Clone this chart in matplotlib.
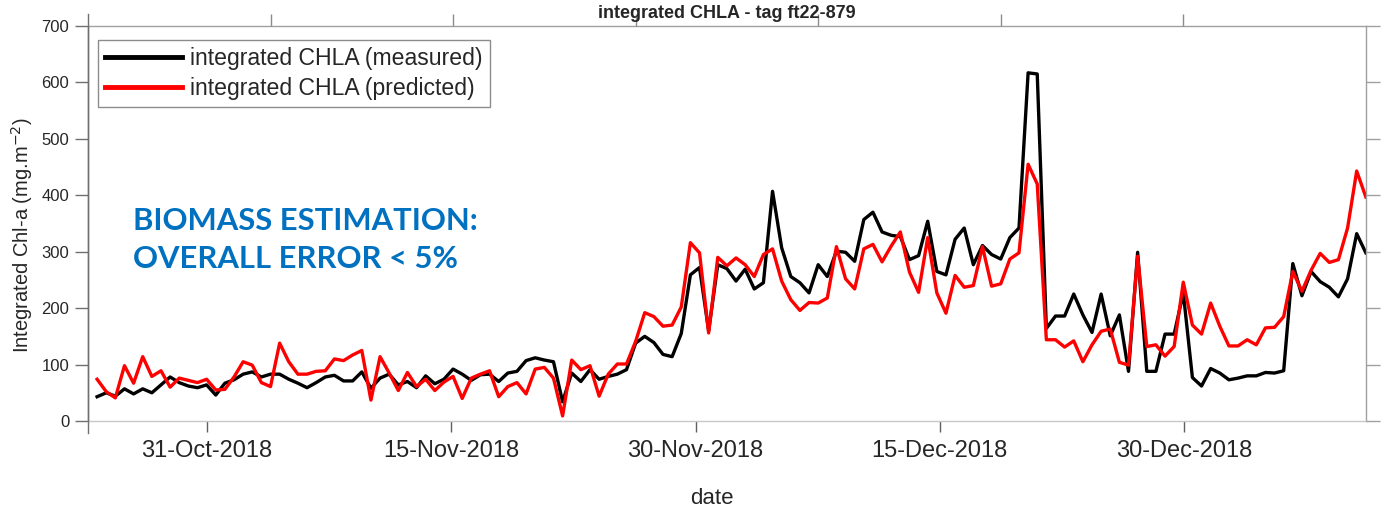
import matplotlib
matplotlib.use("Agg")
import matplotlib.pyplot as plt
import matplotlib.dates as mdates
from matplotlib.lines import Line2D
import pandas as pd

# ---------------- data ----------------
dates = pd.date_range("2018-10-24 06:00", "2019-01-10 04:00", periods=140)

measured = [43, 50, 44, 57, 48, 57, 50, 64, 78, 68, 62, 59, 64, 46, 67, 73, 83, 87, 78, 83,
            83, 74, 67, 59, 68, 78, 81, 71, 71, 87, 58, 76, 83, 64, 70,
            59, 80, 66, 74, 92, 83, 72, 82, 83, 70, 85, 88, 107, 112, 108, 105, 34, 85, 70, 91,
            74, 79, 83, 91, 138, 150, 139, 118, 114, 155, 259, 272, 160, 277, 270,
            248, 269, 234, 245, 407, 307, 256, 245, 227, 277, 256, 301, 299, 283, 357, 370, 335,
            329, 327, 286, 293, 354, 265, 259, 322, 342, 277, 311, 295, 287, 325, 342, 617, 615,
            164, 186,
            186, 225, 188, 157, 225, 151, 188, 88, 299, 88, 88, 154, 154, 227, 77, 62, 93, 85,
            73, 76, 80, 80, 86, 85, 89, 279, 222, 265, 247, 237, 220, 252, 332, 298]

predicted = [74, 52, 41, 98, 67, 114, 79, 89, 60, 76, 72, 68, 74, 55, 56, 78, 105, 99, 68, 61,
             138, 105, 83, 83, 88, 89, 110, 107, 117, 125, 37, 114, 85, 54, 86,
             61, 74, 54, 69, 79, 40, 76, 83, 89, 43, 61, 68, 48, 92, 95, 76, 9, 108, 91, 98,
             44, 83, 101, 101, 141, 192, 185, 168, 170, 202, 316, 298, 156, 290, 275,
             289, 277, 256, 295, 305, 248, 215, 196, 210, 209, 218, 309, 252, 234, 305, 313, 282,
             310, 335, 264, 228, 325, 227, 191, 258, 237, 240, 309, 239, 243, 287, 298, 455, 420,
             144, 144,
             131, 142, 105, 135, 159, 163, 104, 99, 292, 132, 135, 115, 132, 246, 170, 154, 209,
             168, 133, 133, 144, 135, 165, 166, 185, 265, 230, 267, 297, 281, 286, 342, 443, 397]

xtick_dates = ["2018-10-31", "2018-11-15", "2018-11-30", "2018-12-15", "2018-12-30"]
yticks = [0, 100, 200, 300, 400, 500, 600, 700]
series_labels = ["integrated CHLA (measured)", "integrated CHLA (predicted)"]
title = "integrated CHLA - tag ft22-879"
annotation = "BIOMASS ESTIMATION:\nOVERALL ERROR < 5%"

# ---------------- figure ----------------
W, H = 1388, 512
fig = plt.figure(figsize=(W / 100, H / 100), dpi=100)
plt.rcParams["font.family"] = ["Liberation Sans", "DejaVu Sans"]

L, R, T, B = 88, 1366, 26, 421
ax = fig.add_axes([L / W, 1 - B / H, (R - L) / W, (B - T) / H])

ax.plot(dates, measured, color="black", lw=2.4, label=series_labels[0])
ax.plot(dates, predicted, color="#ff0000", lw=2.4, label=series_labels[1])

ax.set_xlim(pd.Timestamp("2018-10-23 16:36"), pd.Timestamp("2019-01-10 04:15"))
ax.set_ylim(0, 700)
ax.set_yticks(yticks)
ax.set_xticks(pd.to_datetime(xtick_dates))
ax.xaxis.set_major_formatter(mdates.DateFormatter("%d-%b-%Y"))

for s in ["top", "right"]:
    ax.spines[s].set_color("#a0a0a0")
ax.spines["left"].set_color("#707070")
ax.spines["bottom"].set_color("#c8c8c8")
for s in ax.spines.values():
    s.set_linewidth(1.0)

ax.tick_params(axis="x", direction="out", length=8, width=1, color="#606060",
               labelsize=17, labelcolor="#262626", pad=6)
ax.tick_params(axis="y", direction="out", length=9.5, width=1, color="#707070",
               labelsize=12, labelcolor="#262626", pad=4)

ax.set_xlabel("date", fontsize=16, color="#262626")
ax.xaxis.set_label_coords((712 - L) / (R - L), -(498 - B) / (B - T), transform=ax.transAxes)
ax.xaxis.label.set_va("center")
ax.set_ylabel("Integrated Chl-a (mg.m$^{-2}$)", fontsize=14.5, color="#262626")
ax.yaxis.set_label_coords(-(L - 22) / (R - L), 0.47)
ax.yaxis.label.set_va("center")

# top & right ticks (outward) like a boxed MATLAB axes
axt = ax.twiny()
axt.set_xlim(0, 7)
axt.set_xticks([1, 2, 3, 4, 5, 6])
axt.tick_params(axis="x", direction="out", length=8.5, width=1, color="#8c8c8c",
                labeltop=False, top=True)
axr = ax.twinx()
axr.set_ylim(0, 700)
axr.set_yticks(yticks)
axr.tick_params(axis="y", direction="out", length=10, width=1, color="#a0a0a0",
                labelright=False, right=True)
for a in (axt, axr):
    for s in a.spines.values():
        s.set_visible(False)

# left spine extends a little above and below the plotting box
fig.add_artist(Line2D([L / W, L / W], [1 - 433 / H, 1 - 14 / H], color="#707070", lw=1.0))

fig.text((L + R) / 2 / W, 1 - 14 / H, title, ha="center", va="center",
         fontsize=13, fontweight="bold", color="#262626")

leg = ax.legend(loc="upper left", bbox_to_anchor=((98 - L) / (R - L), (B - 40) / (B - T)),
                borderaxespad=0, fontsize=16.6, handlelength=3.35, handletextpad=0.35,
                labelspacing=0.32, borderpad=0.3, fancybox=False, frameon=True,
                edgecolor="#707070")
leg.get_frame().set_linewidth(1.0)
for ln in leg.get_lines():
    ln.set_linewidth(3.5)
for t in leg.get_texts():
    t.set_color("#262626")

ax.text((133 - L) / (R - L), (B - 240) / (B - T), annotation, transform=ax.transAxes,
        ha="left", va="center", fontsize=22.3, fontweight="bold", color="#0070C0",
        family=["Lato", "DejaVu Sans"], linespacing=1.42)

fig.savefig("out.png", dpi=100)
